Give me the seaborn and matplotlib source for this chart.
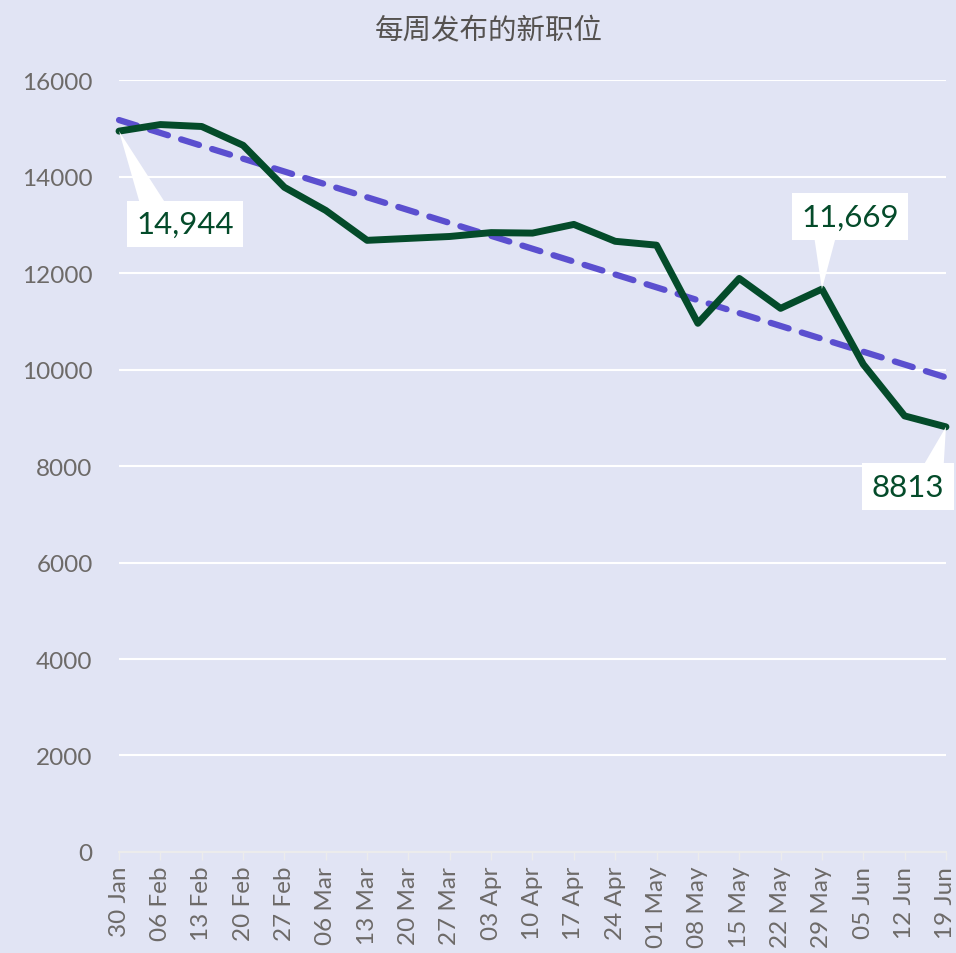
import numpy as np
import pandas as pd
import matplotlib.pyplot as plt
import seaborn as sns

weeks = ['30 Jan', '06 Feb', '13 Feb', '20 Feb', '27 Feb', '06 Mar', '13 Mar', '20 Mar',
         '27 Mar', '03 Apr', '10 Apr', '17 Apr', '24 Apr', '01 May', '08 May', '15 May',
         '22 May', '29 May', '05 Jun', '12 Jun', '19 Jun']
jobs = [14944, 15080, 15040, 14650, 13780, 13300, 12680, 12720, 12760, 12840,
        12830, 13010, 12660, 12580, 10960, 11890, 11270, 11669, 10110, 9040, 8813]

df = pd.DataFrame({'idx': np.arange(len(jobs)), 'week': weeks, 'jobs': jobs})

sns.set_theme(style='white')
plt.rcParams['font.family'] = ['Lato', 'Noto Sans CJK SC', 'DejaVu Sans']

bg = '#e1e4f4'
green = '#044b2a'
fig = plt.figure(figsize=(9.56, 9.54), dpi=100, facecolor=bg)
ax = fig.add_axes([0.1245, 0.1059, 0.865, 0.809])
ax.set_facecolor(bg)

ax.yaxis.grid(True, color='white', linewidth=1.5)
ax.set_axisbelow(True)

# weekly trend (least squares fit)
sns.regplot(data=df, x='idx', y='jobs', ax=ax, scatter=False, ci=None, truncate=True,
            line_kws=dict(color='#5b4fcf', linewidth=4.5, linestyle=(0, (3, 2.2)),
                          dash_capstyle='round', clip_on=False))
sns.lineplot(data=df, x='idx', y='jobs', ax=ax, color=green, linewidth=5, clip_on=False)

ax.set_xlim(0, len(jobs) - 1)
ax.set_ylim(0, 16000)
ax.set_yticks(range(0, 16001, 2000))
ax.set_xticks(df['idx'])
ax.set_xticklabels(df['week'], rotation=90, va='top')
ax.tick_params(axis='y', labelsize=17.5, colors='#6d6a68', length=0, pad=19)
ax.tick_params(axis='x', labelsize=17.5, colors='#6d6a68', length=6, width=1,
               color='#ececec', direction='out', bottom=True, pad=4)
for s in ['top', 'right', 'left']:
    ax.spines[s].set_visible(False)
ax.spines['bottom'].set_color('#ececec')
ax.spines['bottom'].set_linewidth(1.5)
ax.set_xlabel('')
ax.set_ylabel('')

fig.text(0.511, 0.967, '每周发布的新职位', fontsize=20.5, color='#555250',
         ha='center', va='center', family=['Noto Sans CJK SC', 'DejaVu Sans'])

# callouts: point index, label box centre, pointer base x
note_idx = [0, 17, 20]
note_box = [(1.6, 13020), (17.68, 13170), (19.08, 7570)]
note_base_x = [1.02, 17.1, 19.56]

for i, (tx, ty), bx in zip(note_idx, note_box, note_base_x):
    xi, yi = df['idx'][i], df['jobs'][i]
    lab = f'{yi:,}' if yi >= 10000 else str(yi)
    # white pointer from label box to the point
    tip = ax.transData.transform((xi, yi))
    base = ax.transData.transform((bx, ty))
    d = tip - base
    n = np.array([-d[1], d[0]]) / np.hypot(*d) * 15
    tri = ax.transData.inverted().transform(np.array([tip, base + n, base - n]))
    ax.fill(tri[:, 0], tri[:, 1], color='white', lw=0, clip_on=False, zorder=4)
    ax.text(tx, ty, lab, fontsize=22.5, color=green, ha='center', va='center',
            bbox=dict(boxstyle='square,pad=0.3', fc='white', ec='none'),
            clip_on=False, zorder=5)

fig.savefig('out.png', dpi=100, facecolor=bg)
